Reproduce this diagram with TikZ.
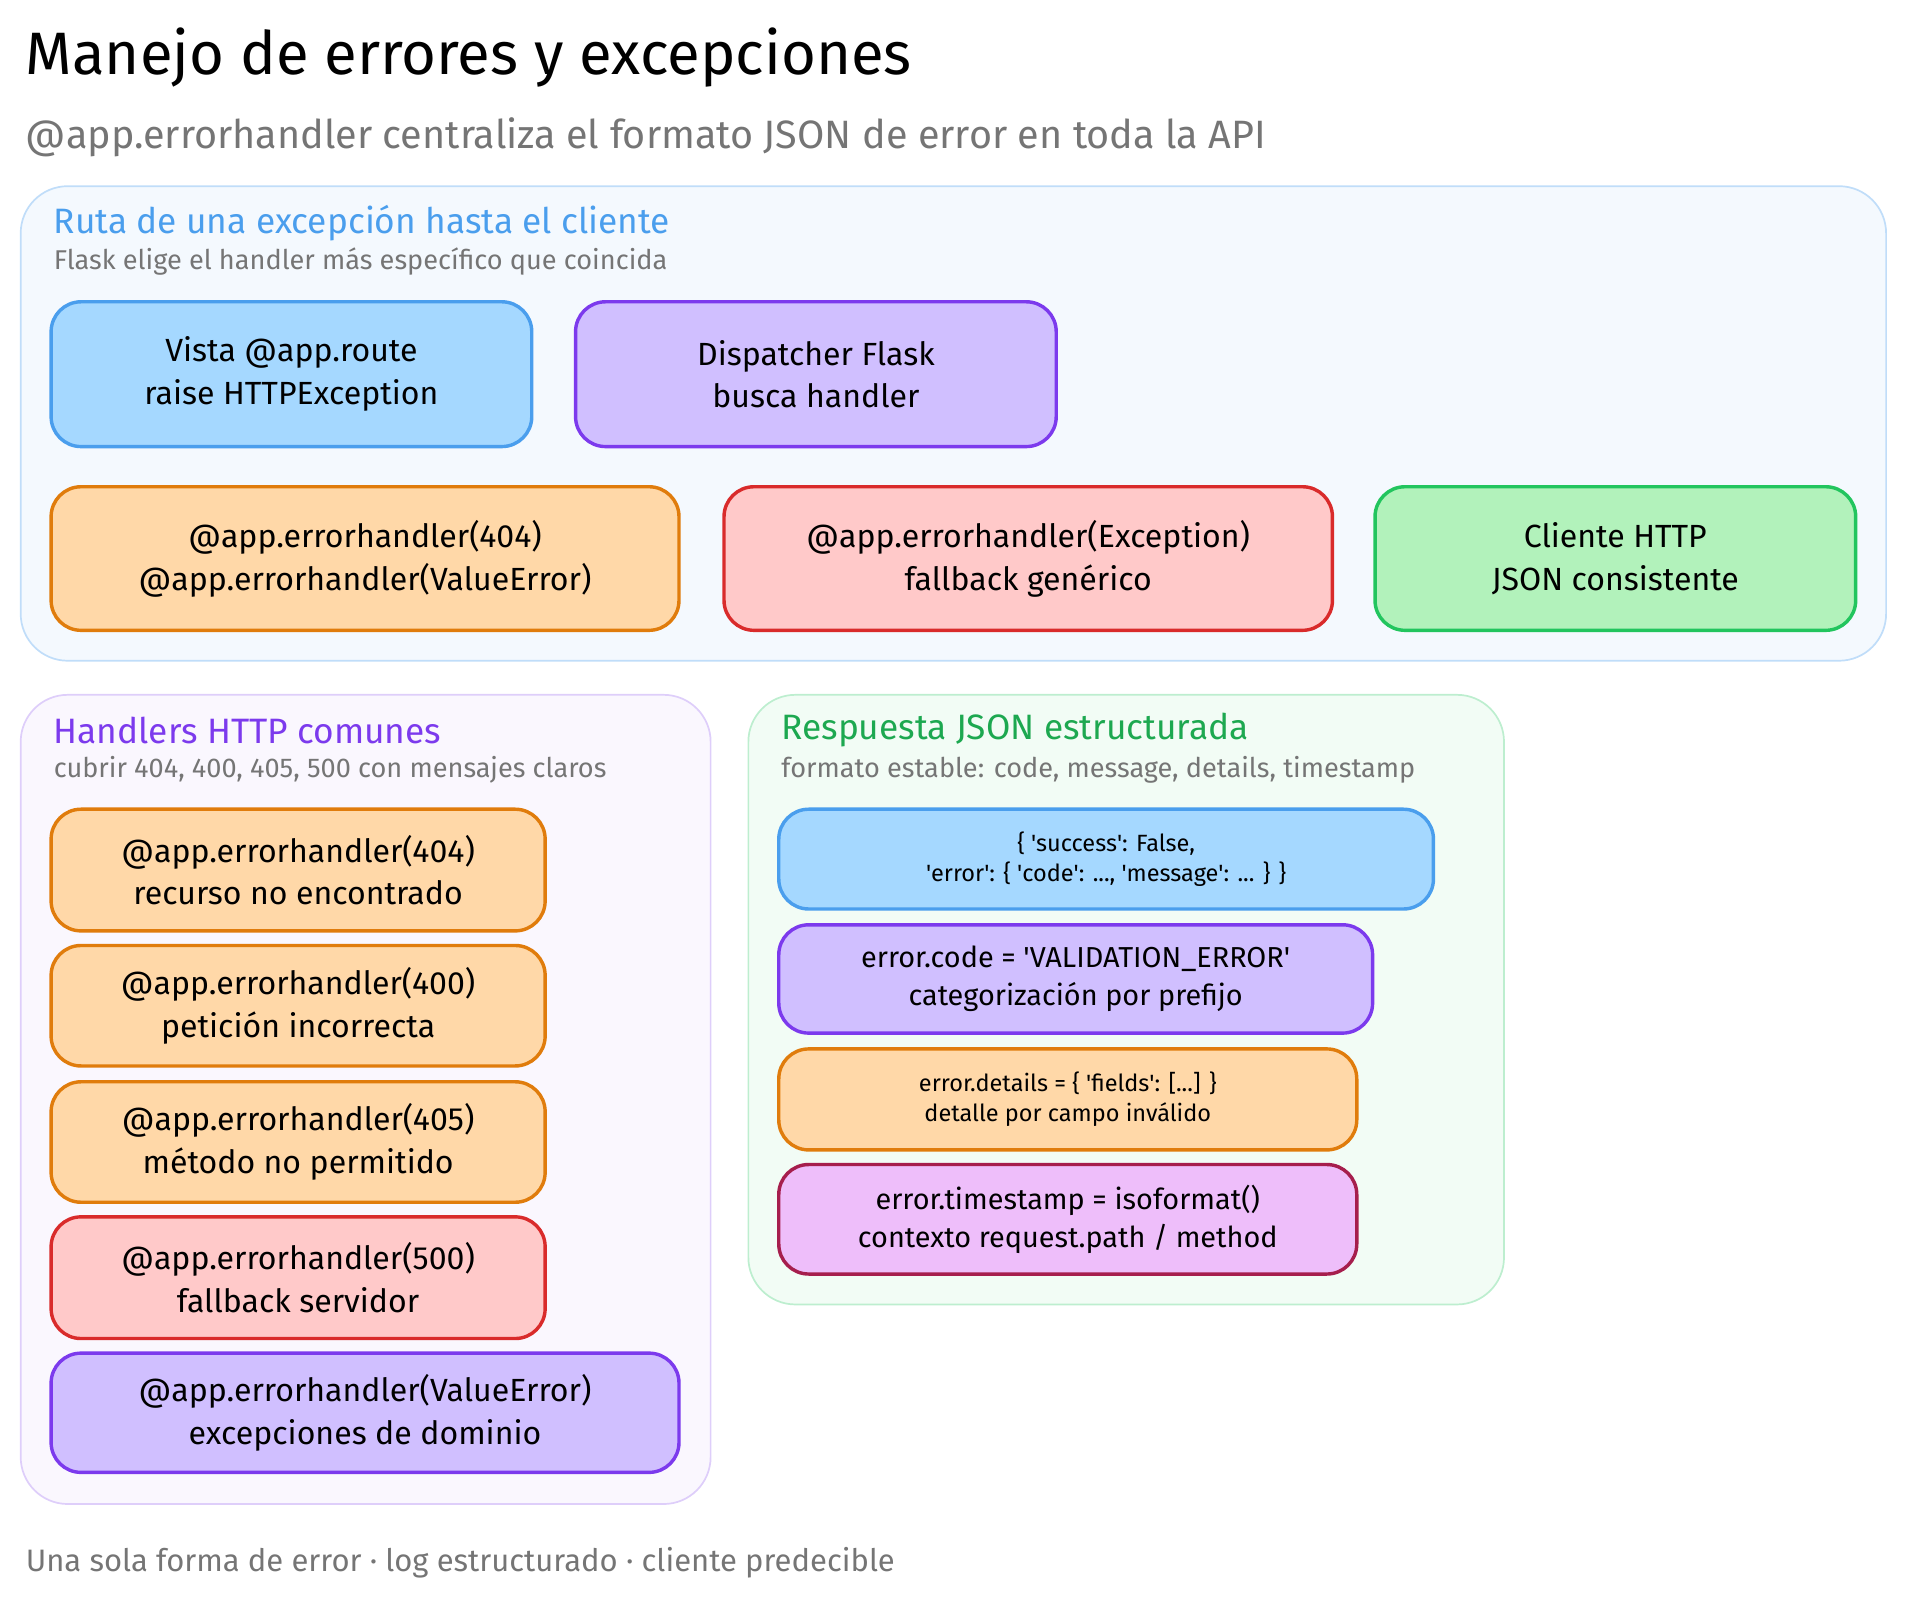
\documentclass[tikz,border=0pt]{standalone}
\usepackage{fontspec}
\setmainfont{Fira Sans}
\usetikzlibrary{calc}
\definecolor{bluefill}{HTML}{A5D8FF}\definecolor{blueline}{HTML}{4A9EED}
\definecolor{purpfill}{HTML}{D0BFFF}\definecolor{purpline}{HTML}{7C3AED}
\definecolor{orfill}{HTML}{FFD8A8}\definecolor{orline}{HTML}{E07C0C}
\definecolor{redfill}{HTML}{FFC9C9}\definecolor{redline}{HTML}{D92B2B}
\definecolor{grfill}{HTML}{B2F2BB}\definecolor{grline}{HTML}{22C55E}
\definecolor{pkfill}{HTML}{EEBEFA}\definecolor{pkline}{HTML}{A61E4D}
\definecolor{txtgray}{HTML}{757575}
\newcommand{\sq}{\textquotesingle}
\tikzset{
  card/.style={draw, line width=1.6pt, rounded corners=14pt, align=center, inner sep=0pt},
  zone/.style={draw, line width=0.8pt, rounded corners=22pt},
  hd/.style={anchor=west, font=\fontsize{16.5}{20}\selectfont},
  sub/.style={anchor=west, text=txtgray, font=\fontsize{12.7}{15}\selectfont},
  big/.style={font=\fontsize{15}{20}\selectfont},
  small/.style={font=\fontsize{11}{14}\selectfont}
}
% card from corner to corner, in pixels, y downwards
\newcommand{\card}[7]{%
  \node[card, #6, minimum width={(#4-#2)*0.02cm}, minimum height={(#5-#3)*0.02cm}]
    (#1) at ({(#2+#4)/2},{(#3+#5)/2}) {#7};}
\begin{document}
\begin{tikzpicture}[x=0.02cm,y=-0.02cm]
\useasboundingbox (0,0) rectangle (1568,1318);
\node[anchor=west, font=\fontsize{28}{32}\selectfont] (title) at (15,47) {Manejo de errores y excepciones};
\node[anchor=west, text=txtgray, font=\fontsize{18.5}{22}\selectfont] (subtitle) at (15,113) {@app.errorhandler centraliza el formato JSON de error en toda la API};

% zones
\draw[zone, draw=blueline!35, fill=blueline!6] (17,153) rectangle (1550,543);
\draw[zone, draw=purpline!25, fill=purpline!4] (17,571) rectangle (584,1236);
\draw[zone, draw=grline!30, fill=grline!6] (615,571) rectangle (1236,1072);

\node[hd, text=blueline] (h1) at (38,183) {Ruta de una excepción hasta el cliente};
\node[sub] (s1) at (38,215) {Flask elige el handler más específico que coincida};
\node[hd, text=purpline] (h2) at (38,600) {Handlers HTTP comunes};
\node[sub] (s2) at (38,633) {cubrir 404, 400, 405, 500 con mensajes claros};
\node[hd, text=grline!85!black] (h3) at (636,600) {Respuesta JSON estructurada};
\node[sub] (s3) at (636,633) {formato estable: code, message, details, timestamp};

% ruta
\card{vista}{42}{248}{437}{367}{big, fill=bluefill, draw=blueline}{Vista @app.route\\raise HTTPException}
\card{disp}{473}{248}{868}{367}{big, fill=purpfill, draw=purpline}{Dispatcher Flask\\busca handler}
\card{spec}{42}{400}{558}{518}{big, fill=orfill, draw=orline}{@app.errorhandler(404)\\@app.errorhandler(ValueError)}
\card{fallb}{595}{400}{1095}{518}{big, fill=redfill, draw=redline}{@app.errorhandler(Exception)\\fallback genérico}
\card{client}{1130}{400}{1525}{518}{big, fill=grfill, draw=grline}{Cliente HTTP\\JSON consistente}

% handlers
\card{h404}{42}{665}{448}{765}{big, fill=orfill, draw=orline}{@app.errorhandler(404)\\recurso no encontrado}
\card{h400}{42}{777}{448}{876}{big, fill=orfill, draw=orline}{@app.errorhandler(400)\\petición incorrecta}
\card{h405}{42}{889}{448}{988}{big, fill=orfill, draw=orline}{@app.errorhandler(405)\\método no permitido}
\card{h500}{42}{1000}{448}{1100}{big, fill=redfill, draw=redline}{@app.errorhandler(500)\\fallback servidor}
\card{hval}{42}{1112}{558}{1210}{big, fill=purpfill, draw=purpline}{@app.errorhandler(ValueError)\\excepciones de dominio}

% respuesta
\card{body}{640}{665}{1178}{747}{small, fill=bluefill, draw=blueline}{\{ \sq success\sq: False,\\\sq error\sq: \{ \sq code\sq: ..., \sq message\sq: ... \} \}}
\card{code}{640}{760}{1128}{849}{font=\fontsize{13.5}{18}\selectfont, fill=purpfill, draw=purpline}{error.code = \sq VALIDATION\_ERROR\sq\\categorización por prefijo}
\card{det}{640}{862}{1115}{945}{small, fill=orfill, draw=orline}{error.details = \{ \sq fields\sq: [...] \}\\detalle por campo inválido}
\card{ts}{640}{957}{1115}{1047}{font=\fontsize{13.5}{18}\selectfont, fill=pkfill, draw=pkline}{error.timestamp = isoformat()\\contexto request.path / method}

\node[sub, font=\fontsize{14.5}{17}\selectfont] (foot) at (15,1284) {Una sola forma de error · log estructurado · cliente predecible};
\end{tikzpicture}
\end{document}
